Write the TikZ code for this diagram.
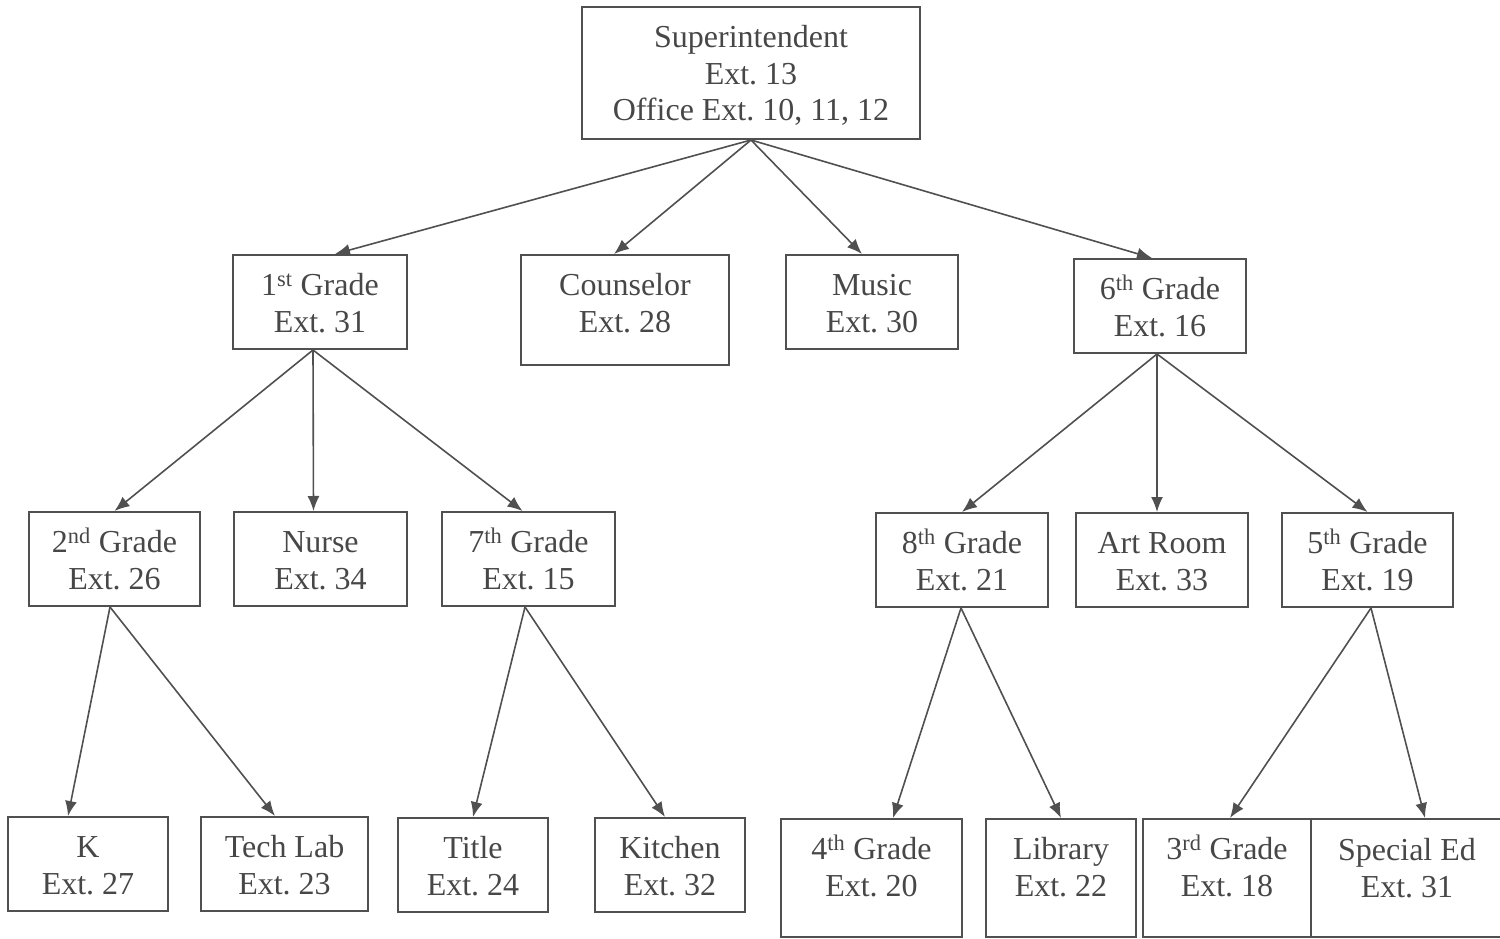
\documentclass[tikz,border=0pt]{standalone}
\usepackage{fontspec}
\setmainfont{Liberation Serif}
\usetikzlibrary{arrows.meta}
\frenchspacing
\definecolor{ink}{HTML}{474747}
\definecolor{lineink}{HTML}{505050}
\tikzset{
  box/.style={draw=lineink, line width=2pt, inner sep=0pt},
  txt/.style={text=ink, align=center, inner sep=0pt, font=\fontsize{32}{36.5}\selectfont},
  conn/.style={draw=lineink, line width=1.6pt, -{Latex[length=15pt,width=12pt]}},
}
\newcommand{\orgbox}[6]{% name, x1, y1, x2, y2, text
  \node[box, minimum width=#4pt-#2pt, minimum height=#5pt-#3pt] (#1) at ({(#2+#4)/2},{-(#3+#5)/2}) {};
  \node[txt, anchor=north] (#1-t) at ([yshift=-16pt]#1.north) {\strut#6};
}
\begin{document}
\begin{tikzpicture}[x=1pt,y=1pt]
\useasboundingbox (0,0) rectangle (1500,-939);
\orgbox{sup}{582}{7}{920}{139}{Superintendent\\Ext. 13\\Office Ext. 10, 11, 12}
\orgbox{g1}{233}{255}{407}{349}{1\textsuperscript{st} Grade\\Ext. 31}
\orgbox{cou}{521}{255}{729}{365}{Counselor\\Ext. 28}
\orgbox{mus}{786}{255}{958}{349}{Music\\Ext. 30}
\orgbox{g6}{1074}{259}{1246}{353}{6\textsuperscript{th} Grade\\Ext. 16}
\orgbox{g2}{29}{512}{200}{606}{2\textsuperscript{nd} Grade\\Ext. 26}
\orgbox{nur}{234}{512}{407}{606}{Nurse\\Ext. 34}
\orgbox{g7}{442}{512}{615}{606}{7\textsuperscript{th} Grade\\Ext. 15}
\orgbox{g8}{876}{513}{1048}{607}{8\textsuperscript{th} Grade\\Ext. 21}
\orgbox{art}{1076}{513}{1248}{607}{Art Room\\Ext. 33}
\orgbox{g5}{1282}{513}{1453}{607}{5\textsuperscript{th} Grade\\Ext. 19}
\orgbox{k}{8}{817}{168}{911}{K\\Ext. 27}
\orgbox{tech}{201}{817}{368}{911}{Tech Lab\\Ext. 23}
\orgbox{tit}{398}{818}{548}{912}{Title\\Ext. 24}
\orgbox{kit}{595}{818}{745}{912}{Kitchen\\Ext. 32}
\orgbox{g4}{781}{819}{962}{937}{4\textsuperscript{th} Grade\\Ext. 20}
\orgbox{lib}{986}{819}{1136}{937}{Library\\Ext. 22}
\orgbox{g3}{1143}{819}{1311}{937}{3\textsuperscript{rd} Grade\\Ext. 18}
\node[box, minimum width=200pt, minimum height=118pt] (sped) at (1411,-878) {};
\node[txt, anchor=north] (sped-t) at ([yshift=-16pt]1407,-819) {\strut Special Ed\\Ext. 31};
% connectors
\draw[conn] (sup.south) -- ([xshift=15pt]g1.north);
\draw[conn] (sup.south) -- ([xshift=-11pt]cou.north);
\draw[conn] (sup.south) -- ([xshift=-10pt]mus.north);
\draw[conn] (sup.south) -- ([xshift=-8pt]g6.north);
\draw[conn] ([xshift=-7pt]g1.south) -- (g2.north);
\draw[conn] ([xshift=-7pt]g1.south) -- ([xshift=-7pt]nur.north);
\draw[conn] ([xshift=-7pt]g1.south) -- ([xshift=-6pt]g7.north);
\draw[conn] ([xshift=-3pt]g6.south) -- (g8.north);
\draw[conn] ([xshift=-3pt]g6.south) -- ([xshift=-5pt]art.north);
\draw[conn] ([xshift=-3pt]g6.south) -- (g5.north);
\draw[conn] ([xshift=-4.5pt]g2.south) -- ([xshift=-20pt]k.north);
\draw[conn] ([xshift=-4.5pt]g2.south) -- ([xshift=-9.5pt]tech.north);
\draw[conn] ([xshift=-3.5pt]g7.south) -- (tit.north);
\draw[conn] ([xshift=-3.5pt]g7.south) -- ([xshift=-5pt]kit.north);
\draw[conn] ([xshift=-1pt]g8.south) -- ([xshift=21.5pt]g4.north);
\draw[conn] ([xshift=-1pt]g8.south) -- (lib.north);
\draw[conn] ([xshift=3.5pt]g5.south) -- ([xshift=3pt]g3.north);
\draw[conn] ([xshift=3.5pt]g5.south) -- ([xshift=14pt]sped.north);
\end{tikzpicture}
\end{document}
